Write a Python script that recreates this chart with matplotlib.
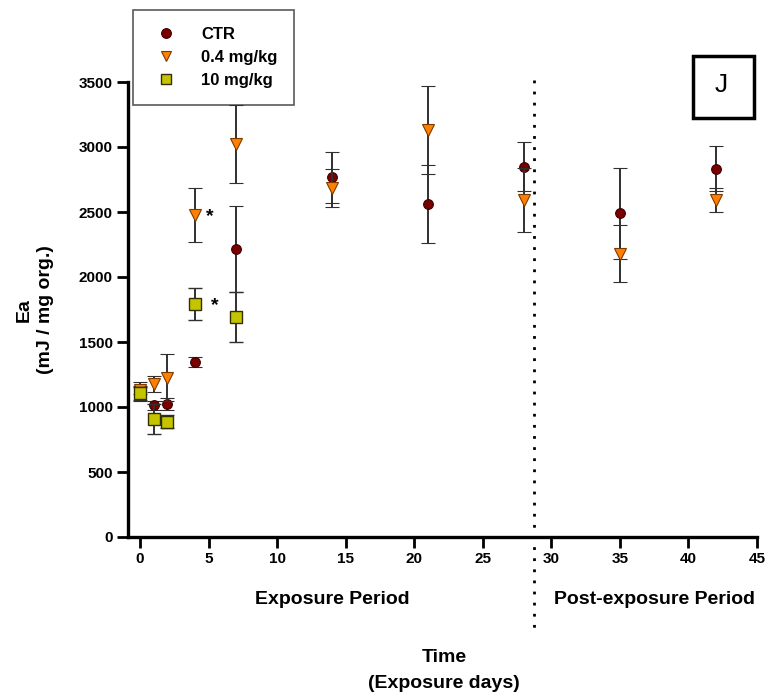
import matplotlib
matplotlib.use("Agg")
import matplotlib.pyplot as plt
import matplotlib.transforms as mtransforms
from matplotlib.lines import Line2D
from matplotlib.patches import Rectangle

plt.rcParams['font.family'] = ['Liberation Sans', 'DejaVu Sans']

# Data
days_ctr = [0, 1, 2, 4, 7, 14, 21, 28, 35, 42]
ctr_mean = [1120, 1015, 1022, 1344, 2215, 2767, 2561, 2848, 2492, 2833]
ctr_err = [75, 35, 45, 38, 330, 195, 300, 190, 350, 175]

days_low = [0, 1, 2, 4, 7, 14, 21, 28, 35, 42]
low_mean = [1130, 1177, 1225, 2477, 3021, 2685, 3130, 2590, 2180, 2592]
low_err = [30, 58, 180, 208, 300, 145, 340, 245, 220, 95]

days_high = [0, 1, 2, 4, 7]
high_mean = [1107, 910, 888, 1792, 1692]
high_err = [50, 115, 50, 123, 190]

series_labels = ['CTR', '0.4 mg/kg', '10 mg/kg']
xticks = [0, 5, 10, 15, 20, 25, 30, 35, 40, 45]
yticks = [0, 500, 1000, 1500, 2000, 2500, 3000, 3500]
divider_day = 28.7

W, H = 767, 696
fig = plt.figure(figsize=(W / 100, H / 100), dpi=100)
ax = fig.add_axes([128 / W, 1 - 537 / H, (757 - 128) / W, (537 - 82) / H])

styles = [
    dict(marker='o', color='#7a0000', mec='#3a0000', ms=7, mew=0.8),
    dict(marker='v', color='#ff8000', mec='#7a3a00', ms=8.5, mew=0.8),
    dict(marker='s', color='#c4c400', mec='#303000', ms=8, mew=1.0),
]

eb_kw = dict(ecolor='#303030', elinewidth=1.4, capsize=5, capthick=1.4, linestyle='none')
ax.errorbar(days_ctr, ctr_mean, yerr=ctr_err, zorder=3, **styles[0], **eb_kw)
ax.errorbar(days_low, low_mean, yerr=low_err, zorder=4, **styles[1], **eb_kw)
ax.errorbar(days_high, high_mean, yerr=high_err, zorder=5, **styles[2], **eb_kw)

# significance asterisks
ax.annotate('*', (days_low[3], low_mean[3]), xytext=(11, -1), textcoords='offset points',
            fontsize=14, fontweight='bold', ha='center', va='center')
ax.annotate('*', (days_high[3], high_mean[3]), xytext=(14, -1), textcoords='offset points',
            fontsize=14, fontweight='bold', ha='center', va='center')

ax.set_xlim(-0.88, 45)
ax.set_ylim(0, 3500)
ax.set_xticks(xticks)
ax.set_yticks(yticks)
for s in ['top', 'right']:
    ax.spines[s].set_visible(False)
for s in ['left', 'bottom']:
    ax.spines[s].set_linewidth(2.4)
ax.tick_params(axis='both', direction='out', length=8, width=2, labelsize=11, pad=3)
for lab in ax.get_xticklabels() + ax.get_yticklabels():
    lab.set_fontweight('bold')

# dotted divider
trans = mtransforms.blended_transform_factory(ax.transData, ax.transAxes)
ax.plot([divider_day, divider_day], [1.004, -0.204], transform=trans, color='black',
        linestyle=(0, (1, 3)), linewidth=2, clip_on=False, zorder=2)

# labels
lab_kw = dict(fontsize=14, fontweight='bold', ha='center', va='center')
fig.text(332 / W, 1 - 600 / H, 'Exposure Period', **lab_kw)
fig.text(655 / W, 1 - 600 / H, 'Post-exposure Period', **lab_kw)
fig.text(444 / W, 1 - 657 / H, 'Time', **lab_kw)
fig.text(444 / W, 1 - 683 / H, '(Exposure days)', **lab_kw)
fig.text(24 / W, 1 - 310 / H, 'Ea', rotation=90, **lab_kw)
fig.text(46 / W, 1 - 310 / H, '(mJ / mg org.)', rotation=90, **lab_kw)

# panel letter
fig.add_artist(Rectangle((693 / W, 1 - 118 / H), 61 / W, 62 / H, transform=fig.transFigure,
                         fill=True, fc='white', ec='black', lw=2.5))
fig.text(721 / W, 1 - 85 / H, 'J', fontsize=19, ha='center', va='center')

# legend
handles = [Line2D([], [], linestyle='none', **st) for st in styles]
handles[0].set_markersize(7)
handles[1].set_markersize(7.5)
handles[2].set_markersize(7)
leg = ax.legend(handles, series_labels, loc='upper left', bbox_to_anchor=(133 / W, 1 - 10 / H),
                bbox_transform=fig.transFigure, borderaxespad=0, frameon=True, fancybox=False,
                borderpad=1.0, labelspacing=0.5, handletextpad=1.2, handlelength=1.9,
                prop=dict(weight='bold', size=12))
leg.get_frame().set_edgecolor('#303030')
leg.get_frame().set_linewidth(1.2)

fig.savefig('out.png', dpi=100)
